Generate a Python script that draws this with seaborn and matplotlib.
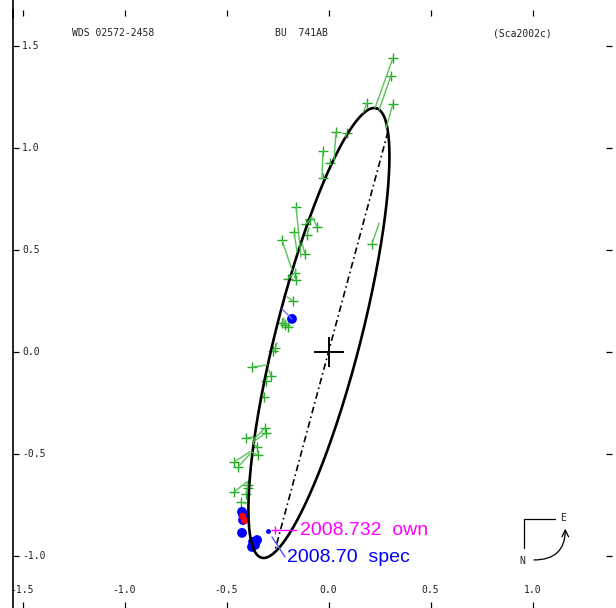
import numpy as np
import matplotlib
matplotlib.use("Agg")
import matplotlib.pyplot as plt
import seaborn as sns
from matplotlib.lines import Line2D

sns.set_theme(style="white")
plt.rcParams['font.family'] = ['DejaVu Sans Mono']

# apparent orbit (arcsec), primary at the origin
orbit_center = (-0.047, 0.093)
orbit_a = 1.137
orbit_b = 0.208
orbit_angle = 75.7   # major axis, deg from +x
node_angle = 74.9    # line of nodes through the primary

# visual measures (green): observed position -> ephemeris position
obs_x = [0.316, 0.306, 0.316, 0.189, 0.037, 0.091, -0.027, 0.007, -0.027, 0.213,
         -0.159, -0.169, -0.228, -0.091, -0.056, -0.110, -0.105, -0.115, -0.164, -0.159,
         -0.199, -0.174, -0.228, -0.199, -0.213, -0.262, -0.272, -0.375, -0.282, -0.306,
         -0.316, -0.311, -0.306, -0.404, -0.350, -0.346, -0.463, -0.444, -0.463, -0.395,
         -0.395, -0.404, -0.429]
obs_y = [1.441, 1.353, 1.216, 1.221, 1.078, 1.074, 0.985, 0.926, 0.853, 0.529,
         0.711, 0.588, 0.549, 0.652, 0.613, 0.627, 0.574, 0.480, 0.387, 0.353,
         0.358, 0.250, 0.142, 0.123, 0.132, 0.020, 0.005, -0.074, -0.118, -0.142,
         -0.221, -0.373, -0.397, -0.422, -0.466, -0.505, -0.539, -0.564, -0.686, -0.652,
         -0.667, -0.696, -0.735]
eph_x = [0.228, 0.248, 0.282, 0.169, 0.027, 0.081, -0.032, 0.012, -0.017, 0.248,
         -0.135, -0.154, -0.179, -0.081, -0.076, -0.091, -0.096, -0.130, -0.159, -0.169,
         -0.174, -0.203, -0.218, -0.213, -0.218, -0.252, -0.257, -0.301, -0.292, -0.301,
         -0.321, -0.370, -0.370, -0.370, -0.370, -0.380, -0.385, -0.385, -0.400, -0.400,
         -0.400, -0.400, -0.404]
eph_y = [1.196, 1.186, 1.098, 1.172, 0.941, 1.054, 0.858, 0.917, 0.853, 0.632,
         0.466, 0.490, 0.402, 0.662, 0.657, 0.647, 0.608, 0.534, 0.402, 0.373,
         0.382, 0.270, 0.167, 0.157, 0.152, 0.044, 0.029, -0.064, -0.088, -0.127,
         -0.211, -0.431, -0.441, -0.417, -0.446, -0.490, -0.490, -0.500, -0.637, -0.637,
         -0.657, -0.676, -0.745]

# other measures (blue), speckle-like
blue_x = [-0.179, -0.424, -0.419, -0.419, -0.424, -0.370, -0.350, -0.375, -0.360]
blue_y = [0.162, -0.784, -0.799, -0.824, -0.887, -0.931, -0.922, -0.956, -0.946]
blue_link = ([-0.179, -0.228], [0.162, 0.211])
red_x = [-0.421, -0.412]
red_y = [-0.806, -0.826]

# last measures with labels
own_pos = (-0.262, -0.873)
own_label = "2008.732  own"
spec_pos = (-0.297, -0.877)
spec_label = "2008.70  spec"

xticks = [-1.5, -1.0, -0.5, 0.0, 0.5, 1.0]
yticks = [-1.0, -0.5, 0.0, 0.5, 1.0, 1.5]
header = ["WDS 02572-2458", "BU  741AB", "(Sca2002c)"]

# orbit curve
th = np.radians(orbit_angle)
t = np.linspace(0, 2 * np.pi, 500)
ex = orbit_center[0] + orbit_a * np.cos(t) * np.cos(th) - orbit_b * np.sin(t) * np.sin(th)
ey = orbit_center[1] + orbit_a * np.cos(t) * np.sin(th) + orbit_b * np.sin(t) * np.cos(th)

# line of nodes: where it crosses the orbit
ph = np.radians(node_angle)
du, dv = np.cos(ph - th), np.sin(ph - th)
cu = orbit_center[0] * np.cos(th) + orbit_center[1] * np.sin(th)
cv = -orbit_center[0] * np.sin(th) + orbit_center[1] * np.cos(th)
A = du**2 / orbit_a**2 + dv**2 / orbit_b**2
B = -2 * (du * cu / orbit_a**2 + dv * cv / orbit_b**2)
C = cu**2 / orbit_a**2 + cv**2 / orbit_b**2 - 1
s = np.roots([A, B, C])
node_x = s * np.cos(ph)
node_y = s * np.sin(ph)

fig = plt.figure(figsize=(6.16, 6.08), dpi=100)
ax = fig.add_axes([13 / 616, 0, 599 / 616, 598 / 608])

sns.lineplot(x=ex, y=ey, sort=False, estimator=None, color="black", lw=1.9, ax=ax)
ax.plot(node_x, node_y, color="black", lw=1.2, ls=(0, (4, 2, 1, 2)))
ax.plot([0], [0], marker="+", ms=22, mew=1.4, color="black")

for ox, oy, px, py in zip(obs_x, obs_y, eph_x, eph_y):
    ax.plot([ox, px], [oy, py], color="#55c455", lw=1.0)
sns.scatterplot(x=obs_x, y=obs_y, marker="+", s=45, color="#22aa22", linewidth=1.0, ax=ax)

ax.plot(*blue_link, color="#7070ff", lw=1.0)
sns.scatterplot(x=blue_x, y=blue_y, s=50, color="#0000ff", edgecolor="none", ax=ax)
sns.scatterplot(x=red_x, y=red_y, s=26, color="#ff0000", edgecolor="none", ax=ax)

# labelled measures
ax.plot([own_pos[0], own_pos[0] + 0.105], [own_pos[1], own_pos[1]], color="#ff00ff", lw=1.0)
ax.plot(*own_pos, marker="+", ms=6, mew=1.0, color="#ff00ff")
ax.text(own_pos[0] + 0.122, own_pos[1], own_label, color="#ff00ff", fontsize=14,
        family="Liberation Sans", va="center", ha="left")
ax.plot([spec_pos[0] + 0.02, spec_pos[0] + 0.084], [spec_pos[1] - 0.03, spec_pos[1] - 0.128],
        color="#5050ff", lw=1.0)
ax.plot(*spec_pos, marker="o", ms=3.5, color="#0000ff", mec="none")
ax.text(spec_pos[0] + 0.094, spec_pos[1] - 0.133, spec_label, color="#0000ff", fontsize=14,
        family="Liberation Sans", va="center", ha="left")

ax.set_xlim(-1.5466, 1.3897)
ax.set_ylim(-1.255, 1.676)
ax.set_aspect("equal")

for sp in ["top", "right", "bottom"]:
    ax.spines[sp].set_visible(False)
ax.spines["left"].set_color("black")
ax.spines["left"].set_linewidth(1.2)
fig.add_artist(Line2D([13 / 616, 13 / 616], [0.97, 1.0], color="black", lw=1.2))

ax.set_xticks(xticks)
ax.set_yticks(yticks)
ax.tick_params(axis="both", direction="in", length=4, width=0.9, color="black",
               top=True, bottom=True, left=True, right=True,
               labelbottom=False, labelleft=False)

for v in xticks:
    ax.text(v, 0.030, f"{v:.1f}", transform=ax.get_xaxis_transform(),
            ha="center", va="center", fontsize=7, color="#222222")
for v in yticks:
    ax.text(0.015, v, f"{v:.1f}", transform=ax.get_yaxis_transform(),
            ha="left", va="center", fontsize=7, color="#222222")

hx = [0.0985, 0.437, 0.801]
for x, txt in zip(hx, header):
    ax.text(x, 0.9615, txt, transform=ax.transAxes, ha="left", va="center",
            fontsize=7, color="#222222")

# compass
ax.plot([0.853, 0.853, 0.905], [0.1003, 0.1488, 0.1488], color="black", lw=0.9,
        transform=ax.transAxes)
ax.text(0.918, 0.1505, "E", transform=ax.transAxes, ha="center", va="center", fontsize=7)
ax.text(0.850, 0.0786, "N", transform=ax.transAxes, ha="center", va="center", fontsize=7)
ax.annotate("", xy=(0.922, 0.1325), xytext=(0.8698, 0.0803), xycoords="axes fraction",
            arrowprops=dict(arrowstyle="->", lw=0.9, color="black",
                            connectionstyle="angle3,angleA=0,angleB=90",
                            shrinkA=0, shrinkB=0))

fig.savefig("out.png", dpi=100)
